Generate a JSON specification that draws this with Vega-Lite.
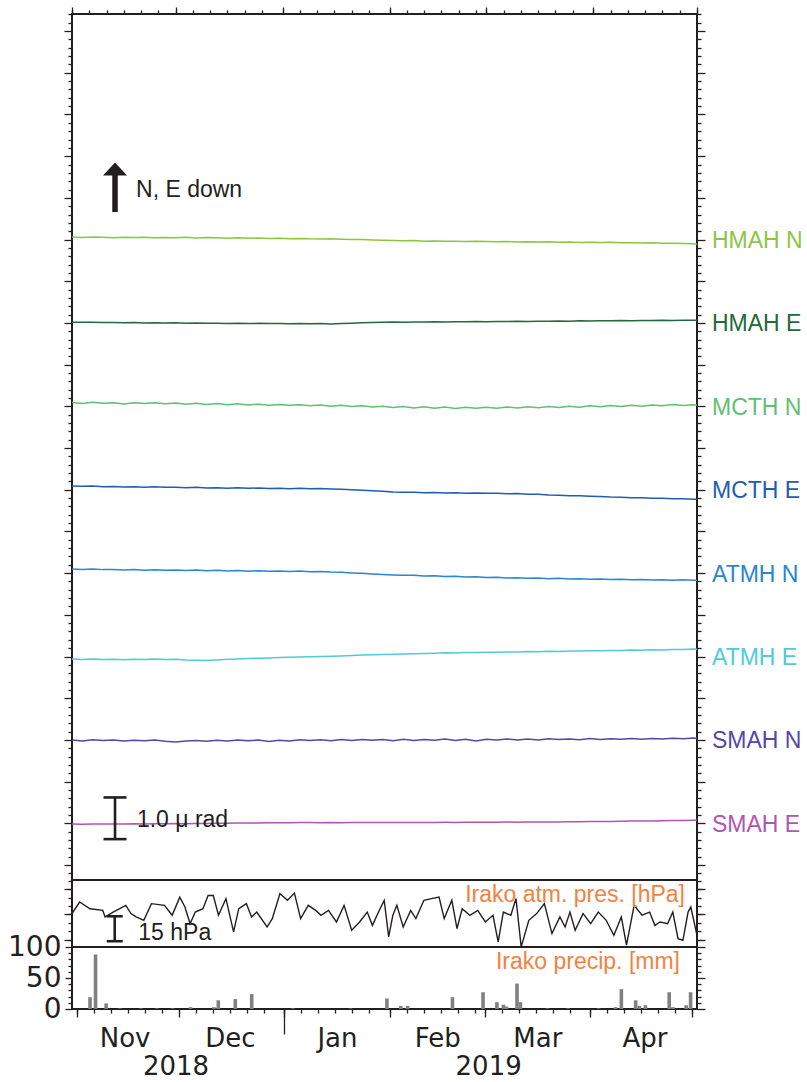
{
  "$schema": "https://vega.github.io/schema/vega-lite/v6.json",
  "padding": {"left": 6, "top": 5, "right": 0, "bottom": 0},
  "bounds": "flush",
  "spacing": 0,
  "config": {
    "view": {"stroke": "#231f20", "strokeWidth": 2},
    "axis": {"domain": false, "grid": false, "tickColor": "#231f20", "tickWidth": 1.3, "labelColor": "#231f20", "labelFont": "DejaVu Sans", "labelFlush": false, "labelOverlap": false, "title": null}
  },
  "datasets": {
    "tilt": [
      {"t":"2018-11-01","HMAH N":15.062,"HMAH E":13.019,"MCTH N":11.094,"MCTH E":9.091,"ATMH N":7.096,"ATMH E":4.942,"SMAH N":2.995,"SMAH E":0.981},
      {"t":"2018-11-04","HMAH N":15.05,"HMAH E":13.014,"MCTH N":11.07,"MCTH E":9.082,"ATMH N":7.086,"ATMH E":4.93,"SMAH N":2.976,"SMAH E":0.978},
      {"t":"2018-11-07","HMAH N":15.062,"HMAH E":13.017,"MCTH N":11.098,"MCTH E":9.089,"ATMH N":7.098,"ATMH E":4.94,"SMAH N":3.005,"SMAH E":0.983},
      {"t":"2018-11-10","HMAH N":15.055,"HMAH E":13.01,"MCTH N":11.077,"MCTH E":9.074,"ATMH N":7.084,"ATMH E":4.926,"SMAH N":2.983,"SMAH E":0.981},
      {"t":"2018-11-13","HMAH N":15.043,"HMAH E":13.012,"MCTH N":11.086,"MCTH E":9.079,"ATMH N":7.089,"ATMH E":4.935,"SMAH N":2.998,"SMAH E":0.986},
      {"t":"2018-11-16","HMAH N":15.058,"HMAH E":13.005,"MCTH N":11.058,"MCTH E":9.067,"ATMH N":7.077,"ATMH E":4.923,"SMAH N":2.971,"SMAH E":0.983},
      {"t":"2018-11-19","HMAH N":15.048,"HMAH E":13.01,"MCTH N":11.084,"MCTH E":9.074,"ATMH N":7.086,"ATMH E":4.933,"SMAH N":2.99,"SMAH E":0.988},
      {"t":"2018-11-22","HMAH N":15.053,"HMAH E":13.002,"MCTH N":11.067,"MCTH E":9.062,"ATMH N":7.072,"ATMH E":4.928,"SMAH N":2.981,"SMAH E":0.986},
      {"t":"2018-11-25","HMAH N":15.043,"HMAH E":13.007,"MCTH N":11.089,"MCTH E":9.07,"ATMH N":7.082,"ATMH E":4.938,"SMAH N":3.0,"SMAH E":0.99},
      {"t":"2018-11-28","HMAH N":15.05,"HMAH E":13.0,"MCTH N":11.062,"MCTH E":9.058,"ATMH N":7.067,"ATMH E":4.926,"SMAH N":2.966,"SMAH E":0.988},
      {"t":"2018-12-01","HMAH N":15.046,"HMAH E":13.002,"MCTH N":11.082,"MCTH E":9.062,"ATMH N":7.074,"ATMH E":4.933,"SMAH N":2.947,"SMAH E":0.993},
      {"t":"2018-12-04","HMAH N":15.053,"HMAH E":12.995,"MCTH N":11.053,"MCTH E":9.05,"ATMH N":7.062,"ATMH E":4.918,"SMAH N":2.971,"SMAH E":0.99},
      {"t":"2018-12-07","HMAH N":15.038,"HMAH E":13.0,"MCTH N":11.074,"MCTH E":9.058,"ATMH N":7.072,"ATMH E":4.909,"SMAH N":2.988,"SMAH E":0.995},
      {"t":"2018-12-10","HMAH N":15.048,"HMAH E":12.993,"MCTH N":11.046,"MCTH E":9.043,"ATMH N":7.058,"ATMH E":4.902,"SMAH N":2.969,"SMAH E":0.998},
      {"t":"2018-12-13","HMAH N":15.043,"HMAH E":12.995,"MCTH N":11.067,"MCTH E":9.05,"ATMH N":7.067,"ATMH E":4.916,"SMAH N":2.99,"SMAH E":1.0},
      {"t":"2018-12-16","HMAH N":15.034,"HMAH E":12.99,"MCTH N":11.038,"MCTH E":9.038,"ATMH N":7.053,"ATMH E":4.933,"SMAH N":2.976,"SMAH E":1.002},
      {"t":"2018-12-19","HMAH N":15.041,"HMAH E":12.993,"MCTH N":11.06,"MCTH E":9.046,"ATMH N":7.06,"ATMH E":4.942,"SMAH N":3.0,"SMAH E":1.005},
      {"t":"2018-12-22","HMAH N":15.031,"HMAH E":12.988,"MCTH N":11.034,"MCTH E":9.034,"ATMH N":7.048,"ATMH E":4.95,"SMAH N":2.981,"SMAH E":1.007},
      {"t":"2018-12-25","HMAH N":15.036,"HMAH E":12.99,"MCTH N":11.053,"MCTH E":9.041,"ATMH N":7.058,"ATMH E":4.959,"SMAH N":2.995,"SMAH E":1.01},
      {"t":"2018-12-28","HMAH N":15.026,"HMAH E":12.986,"MCTH N":11.029,"MCTH E":9.029,"ATMH N":7.043,"ATMH E":4.966,"SMAH N":2.964,"SMAH E":1.012},
      {"t":"2018-12-31","HMAH N":15.031,"HMAH E":12.988,"MCTH N":11.046,"MCTH E":9.038,"ATMH N":7.05,"ATMH E":4.974,"SMAH N":2.993,"SMAH E":1.014},
      {"t":"2019-01-03","HMAH N":15.019,"HMAH E":12.983,"MCTH N":11.024,"MCTH E":9.026,"ATMH N":7.038,"ATMH E":4.981,"SMAH N":2.974,"SMAH E":1.014},
      {"t":"2019-01-06","HMAH N":15.026,"HMAH E":12.986,"MCTH N":11.041,"MCTH E":9.034,"ATMH N":7.048,"ATMH E":4.986,"SMAH N":3.002,"SMAH E":1.017},
      {"t":"2019-01-09","HMAH N":15.017,"HMAH E":12.981,"MCTH N":11.014,"MCTH E":9.022,"ATMH N":7.034,"ATMH E":4.993,"SMAH N":2.983,"SMAH E":1.017},
      {"t":"2019-01-12","HMAH N":15.014,"HMAH E":12.986,"MCTH N":11.034,"MCTH E":9.029,"ATMH N":7.041,"ATMH E":4.998,"SMAH N":3.005,"SMAH E":1.014},
      {"t":"2019-01-15","HMAH N":15.019,"HMAH E":12.978,"MCTH N":11.005,"MCTH E":9.019,"ATMH N":7.026,"ATMH E":5.005,"SMAH N":2.978,"SMAH E":1.017},
      {"t":"2019-01-18","HMAH N":15.007,"HMAH E":12.988,"MCTH N":11.026,"MCTH E":9.014,"ATMH N":7.019,"ATMH E":5.014,"SMAH N":3.007,"SMAH E":1.014},
      {"t":"2019-01-21","HMAH N":15.0,"HMAH E":12.995,"MCTH N":10.998,"MCTH E":9.002,"ATMH N":7.005,"ATMH E":5.024,"SMAH N":2.986,"SMAH E":1.017},
      {"t":"2019-01-24","HMAH N":15.002,"HMAH E":13.005,"MCTH N":11.014,"MCTH E":8.99,"ATMH N":6.995,"ATMH E":5.034,"SMAH N":3.01,"SMAH E":1.019},
      {"t":"2019-01-27","HMAH N":14.99,"HMAH E":13.012,"MCTH N":10.986,"MCTH E":8.976,"ATMH N":6.981,"ATMH E":5.043,"SMAH N":2.99,"SMAH E":1.017},
      {"t":"2019-01-30","HMAH N":14.983,"HMAH E":13.017,"MCTH N":11.002,"MCTH E":8.962,"ATMH N":6.969,"ATMH E":5.048,"SMAH N":3.012,"SMAH E":1.019},
      {"t":"2019-02-02","HMAH N":14.978,"HMAH E":13.022,"MCTH N":10.974,"MCTH E":8.947,"ATMH N":6.957,"ATMH E":5.055,"SMAH N":2.981,"SMAH E":1.017},
      {"t":"2019-02-05","HMAH N":14.969,"HMAH E":13.017,"MCTH N":10.995,"MCTH E":8.938,"ATMH N":6.947,"ATMH E":5.062,"SMAH N":3.014,"SMAH E":1.019},
      {"t":"2019-02-08","HMAH N":14.976,"HMAH E":13.024,"MCTH N":10.962,"MCTH E":8.942,"ATMH N":6.952,"ATMH E":5.067,"SMAH N":2.983,"SMAH E":1.022},
      {"t":"2019-02-11","HMAH N":14.962,"HMAH E":13.022,"MCTH N":10.99,"MCTH E":8.93,"ATMH N":6.933,"ATMH E":5.074,"SMAH N":3.01,"SMAH E":1.019},
      {"t":"2019-02-14","HMAH N":14.966,"HMAH E":13.029,"MCTH N":10.954,"MCTH E":8.935,"ATMH N":6.94,"ATMH E":5.079,"SMAH N":2.99,"SMAH E":1.022},
      {"t":"2019-02-17","HMAH N":14.957,"HMAH E":13.024,"MCTH N":10.986,"MCTH E":8.923,"ATMH N":6.921,"ATMH E":5.089,"SMAH N":3.019,"SMAH E":1.024},
      {"t":"2019-02-20","HMAH N":14.962,"HMAH E":13.031,"MCTH N":10.95,"MCTH E":8.928,"ATMH N":6.928,"ATMH E":5.086,"SMAH N":2.988,"SMAH E":1.022},
      {"t":"2019-02-23","HMAH N":14.952,"HMAH E":13.026,"MCTH N":10.981,"MCTH E":8.918,"ATMH N":6.909,"ATMH E":5.096,"SMAH N":3.017,"SMAH E":1.024},
      {"t":"2019-02-26","HMAH N":14.957,"HMAH E":13.034,"MCTH N":10.957,"MCTH E":8.923,"ATMH N":6.914,"ATMH E":5.094,"SMAH N":2.974,"SMAH E":1.026},
      {"t":"2019-03-01","HMAH N":14.954,"HMAH E":13.031,"MCTH N":10.978,"MCTH E":8.914,"ATMH N":6.894,"ATMH E":5.103,"SMAH N":3.014,"SMAH E":1.024},
      {"t":"2019-03-04","HMAH N":14.947,"HMAH E":13.036,"MCTH N":10.952,"MCTH E":8.918,"ATMH N":6.904,"ATMH E":5.101,"SMAH N":3.0,"SMAH E":1.026},
      {"t":"2019-03-07","HMAH N":14.952,"HMAH E":13.034,"MCTH N":10.986,"MCTH E":8.906,"ATMH N":6.885,"ATMH E":5.11,"SMAH N":3.024,"SMAH E":1.029},
      {"t":"2019-03-10","HMAH N":14.942,"HMAH E":13.041,"MCTH N":10.962,"MCTH E":8.909,"ATMH N":6.892,"ATMH E":5.108,"SMAH N":2.998,"SMAH E":1.026},
      {"t":"2019-03-13","HMAH N":14.95,"HMAH E":13.036,"MCTH N":10.99,"MCTH E":8.894,"ATMH N":6.875,"ATMH E":5.118,"SMAH N":3.019,"SMAH E":1.029},
      {"t":"2019-03-16","HMAH N":14.94,"HMAH E":13.043,"MCTH N":10.966,"MCTH E":8.89,"ATMH N":6.885,"ATMH E":5.115,"SMAH N":3.0,"SMAH E":1.031},
      {"t":"2019-03-19","HMAH N":14.945,"HMAH E":13.041,"MCTH N":10.998,"MCTH E":8.875,"ATMH N":6.868,"ATMH E":5.125,"SMAH N":3.026,"SMAH E":1.034},
      {"t":"2019-03-22","HMAH N":14.935,"HMAH E":13.046,"MCTH N":10.974,"MCTH E":8.87,"ATMH N":6.875,"ATMH E":5.122,"SMAH N":3.007,"SMAH E":1.031},
      {"t":"2019-03-25","HMAH N":14.94,"HMAH E":13.043,"MCTH N":11.005,"MCTH E":8.858,"ATMH N":6.861,"ATMH E":5.132,"SMAH N":3.024,"SMAH E":1.036},
      {"t":"2019-03-28","HMAH N":14.93,"HMAH E":13.05,"MCTH N":10.981,"MCTH E":8.856,"ATMH N":6.868,"ATMH E":5.13,"SMAH N":3.005,"SMAH E":1.038},
      {"t":"2019-03-31","HMAH N":14.935,"HMAH E":13.048,"MCTH N":11.014,"MCTH E":8.846,"ATMH N":6.851,"ATMH E":5.139,"SMAH N":3.031,"SMAH E":1.041},
      {"t":"2019-04-03","HMAH N":14.928,"HMAH E":13.053,"MCTH N":10.99,"MCTH E":8.839,"ATMH N":6.861,"ATMH E":5.137,"SMAH N":3.01,"SMAH E":1.043},
      {"t":"2019-04-06","HMAH N":14.933,"HMAH E":13.05,"MCTH N":11.022,"MCTH E":8.827,"ATMH N":6.846,"ATMH E":5.146,"SMAH N":3.029,"SMAH E":1.046},
      {"t":"2019-04-09","HMAH N":14.923,"HMAH E":13.058,"MCTH N":10.998,"MCTH E":8.822,"ATMH N":6.856,"ATMH E":5.144,"SMAH N":3.014,"SMAH E":1.048},
      {"t":"2019-04-12","HMAH N":14.926,"HMAH E":13.053,"MCTH N":11.029,"MCTH E":8.81,"ATMH N":6.842,"ATMH E":5.154,"SMAH N":3.036,"SMAH E":1.053},
      {"t":"2019-04-15","HMAH N":14.918,"HMAH E":13.06,"MCTH N":11.005,"MCTH E":8.808,"ATMH N":6.849,"ATMH E":5.151,"SMAH N":3.017,"SMAH E":1.055},
      {"t":"2019-04-18","HMAH N":14.921,"HMAH E":13.058,"MCTH N":11.034,"MCTH E":8.798,"ATMH N":6.837,"ATMH E":5.161,"SMAH N":3.034,"SMAH E":1.058},
      {"t":"2019-04-21","HMAH N":14.911,"HMAH E":13.062,"MCTH N":11.014,"MCTH E":8.794,"ATMH N":6.844,"ATMH E":5.158,"SMAH N":3.019,"SMAH E":1.062},
      {"t":"2019-04-24","HMAH N":14.914,"HMAH E":13.06,"MCTH N":11.043,"MCTH E":8.784,"ATMH N":6.832,"ATMH E":5.168,"SMAH N":3.038,"SMAH E":1.065},
      {"t":"2019-04-27","HMAH N":14.904,"HMAH E":13.065,"MCTH N":11.022,"MCTH E":8.786,"ATMH N":6.839,"ATMH E":5.17,"SMAH N":3.029,"SMAH E":1.07},
      {"t":"2019-04-30","HMAH N":14.899,"HMAH E":13.067,"MCTH N":11.038,"MCTH E":8.774,"ATMH N":6.827,"ATMH E":5.178,"SMAH N":3.043,"SMAH E":1.074},
      {"t":"2019-05-01","HMAH N":14.89,"HMAH E":13.065,"MCTH N":11.024,"MCTH E":8.77,"ATMH N":6.832,"ATMH E":5.175,"SMAH N":3.034,"SMAH E":1.077}
    ],
    "pres": [
      {"t":"2018-11-01T00:00:00Z","p":1015.5},{"t":"2018-11-03T05:00:00Z","p":1022.4},{"t":"2018-11-06T05:00:00Z","p":1018.4},
      {"t":"2018-11-09T22:00:00Z","p":1017.4},{"t":"2018-11-10T14:00:00Z","p":1013.5},{"t":"2018-11-12T22:00:00Z","p":1016.4},
      {"t":"2018-11-16T14:00:00Z","p":1020.4},{"t":"2018-11-18T02:00:00Z","p":1015.5},{"t":"2018-11-19T14:00:00Z","p":1013.5},
      {"t":"2018-11-21T19:00:00Z","p":1011.5},{"t":"2018-11-24T00:00:00Z","p":1021.4},{"t":"2018-11-27T19:00:00Z","p":1020.4},
      {"t":"2018-11-30T00:00:00Z","p":1014.5},{"t":"2018-12-02T05:00:00Z","p":1025.3},{"t":"2018-12-03T17:00:00Z","p":1019.4},
      {"t":"2018-12-05T05:00:00Z","p":1009.5},{"t":"2018-12-06T17:00:00Z","p":1016.4},{"t":"2018-12-08T22:00:00Z","p":1018.4},
      {"t":"2018-12-10T10:00:00Z","p":1026.3},{"t":"2018-12-11T22:00:00Z","p":1026.3},{"t":"2018-12-13T10:00:00Z","p":1014.5},
      {"t":"2018-12-15T14:00:00Z","p":1024.4},{"t":"2018-12-17T19:00:00Z","p":1004.6},{"t":"2018-12-19T07:00:00Z","p":1018.4},
      {"t":"2018-12-21T12:00:00Z","p":1021.4},{"t":"2018-12-23T00:00:00Z","p":1013.5},{"t":"2018-12-24T12:00:00Z","p":1016.4},
      {"t":"2018-12-27T12:00:00Z","p":1007.5},{"t":"2018-12-29T00:00:00Z","p":1012.5},{"t":"2018-12-31T05:00:00Z","p":1027.3},
      {"t":"2019-01-02T10:00:00Z","p":1023.4},{"t":"2019-01-04T10:00:00Z","p":1027.7},{"t":"2019-01-06T05:00:00Z","p":1012.5},
      {"t":"2019-01-08T10:00:00Z","p":1020.4},{"t":"2019-01-10T14:00:00Z","p":1017.4},{"t":"2019-01-12T02:00:00Z","p":1014.5},
      {"t":"2019-01-14T07:00:00Z","p":1017.4},{"t":"2019-01-16T14:00:00Z","p":1010.5},{"t":"2019-01-18T19:00:00Z","p":1020.4},
      {"t":"2019-01-21T00:00:00Z","p":1005.6},{"t":"2019-01-23T07:00:00Z","p":1010.5},{"t":"2019-01-25T12:00:00Z","p":1016.4},
      {"t":"2019-01-27T00:00:00Z","p":1008.5},{"t":"2019-01-29T05:00:00Z","p":1018.4},{"t":"2019-01-30T10:00:00Z","p":1023.4},
      {"t":"2019-01-31T17:00:00Z","p":1001.6},{"t":"2019-02-01T22:00:00Z","p":1014.5},{"t":"2019-02-03T02:00:00Z","p":1020.4},
      {"t":"2019-02-04T22:00:00Z","p":1007.5},{"t":"2019-02-07T02:00:00Z","p":1017.4},{"t":"2019-02-08T14:00:00Z","p":1012.5},
      {"t":"2019-02-10T22:00:00Z","p":1023.4},{"t":"2019-02-13T02:00:00Z","p":1024.4},{"t":"2019-02-15T07:00:00Z","p":1025.3},
      {"t":"2019-02-16T19:00:00Z","p":1012.5},{"t":"2019-02-19T00:00:00Z","p":1023.4},{"t":"2019-02-20T12:00:00Z","p":1006.6},
      {"t":"2019-02-22T00:00:00Z","p":1018.4},{"t":"2019-02-24T05:00:00Z","p":1014.5},{"t":"2019-02-26T12:00:00Z","p":1017.4},
      {"t":"2019-02-28T17:00:00Z","p":1010.5},{"t":"2019-03-02T22:00:00Z","p":1014.5},{"t":"2019-03-04T10:00:00Z","p":998.7},
      {"t":"2019-03-05T22:00:00Z","p":1016.4},{"t":"2019-03-08T02:00:00Z","p":1014.5},{"t":"2019-03-09T14:00:00Z","p":1024.4},
      {"t":"2019-03-11T02:00:00Z","p":995.7},{"t":"2019-03-13T07:00:00Z","p":1011.5},{"t":"2019-03-15T14:00:00Z","p":1015.5},
      {"t":"2019-03-17T19:00:00Z","p":1021.4},{"t":"2019-03-20T00:00:00Z","p":1003.6},{"t":"2019-03-22T07:00:00Z","p":1013.5},
      {"t":"2019-03-23T19:00:00Z","p":1007.5},{"t":"2019-03-25T05:00:00Z","p":1016.4},{"t":"2019-03-26T17:00:00Z","p":1005.6},
      {"t":"2019-03-29T00:00:00Z","p":1015.5},{"t":"2019-03-31T05:00:00Z","p":1009.5},{"t":"2019-04-02T10:00:00Z","p":1016.4},
      {"t":"2019-04-04T17:00:00Z","p":1011.5},{"t":"2019-04-06T22:00:00Z","p":1002.6},{"t":"2019-04-09T02:00:00Z","p":1013.5},
      {"t":"2019-04-10T14:00:00Z","p":996.7},{"t":"2019-04-12T19:00:00Z","p":1020.4},{"t":"2019-04-15T02:00:00Z","p":1014.5},
      {"t":"2019-04-17T07:00:00Z","p":1016.4},{"t":"2019-04-18T19:00:00Z","p":1008.5},{"t":"2019-04-20T07:00:00Z","p":1010.5},
      {"t":"2019-04-22T12:00:00Z","p":1009.5},{"t":"2019-04-24T00:00:00Z","p":1016.4},{"t":"2019-04-25T12:00:00Z","p":1000.6},
      {"t":"2019-04-26T22:00:00Z","p":999.6},{"t":"2019-04-28T10:00:00Z","p":1016.4},{"t":"2019-04-29T05:00:00Z","p":1019.4},
      {"t":"2019-05-01T00:00:00Z","p":1002.6}
    ],
    "rain": [
      {"t":"2018-11-04T20:00:00Z","mm":19},{"t":"2018-11-06T11:00:00Z","mm":88},{"t":"2018-11-09T14:00:00Z","mm":9},
      {"t":"2018-11-13T15:00:00Z","mm":1},{"t":"2018-11-19T19:00:00Z","mm":1},{"t":"2018-11-24T12:00:00Z","mm":1},
      {"t":"2018-11-29T02:00:00Z","mm":1},{"t":"2018-12-04T10:00:00Z","mm":3},{"t":"2018-12-11T07:00:00Z","mm":3},
      {"t":"2018-12-12T14:00:00Z","mm":14},{"t":"2018-12-17T14:00:00Z","mm":16},{"t":"2018-12-22T10:00:00Z","mm":24},
      {"t":"2019-01-03T12:00:00Z","mm":1},{"t":"2019-01-20T12:00:00Z","mm":1},{"t":"2019-01-31T05:00:00Z","mm":17},
      {"t":"2019-02-04T07:00:00Z","mm":5},{"t":"2019-02-06T07:00:00Z","mm":5},{"t":"2019-02-19T12:00:00Z","mm":19},
      {"t":"2019-02-28T12:00:00Z","mm":27},{"t":"2019-03-04T14:00:00Z","mm":11},{"t":"2019-03-06T12:00:00Z","mm":7},
      {"t":"2019-03-07T10:00:00Z","mm":4},{"t":"2019-03-10T12:00:00Z","mm":41},{"t":"2019-03-11T12:00:00Z","mm":11},
      {"t":"2019-03-19T12:00:00Z","mm":1},{"t":"2019-03-25T12:00:00Z","mm":1},{"t":"2019-04-03T12:00:00Z","mm":1},
      {"t":"2019-04-08T12:00:00Z","mm":3},{"t":"2019-04-10T05:00:00Z","mm":32},{"t":"2019-04-14T10:00:00Z","mm":14},
      {"t":"2019-04-15T12:00:00Z","mm":5},{"t":"2019-04-17T07:00:00Z","mm":6},{"t":"2019-04-24T07:00:00Z","mm":27},
      {"t":"2019-04-25T10:00:00Z","mm":3},{"t":"2019-04-29T07:00:00Z","mm":6},{"t":"2019-04-30T14:00:00Z","mm":27}
    ]
  },
  "vconcat": [
    {
      "width": 625,
      "height": 866,
      "layer": [
        {
          "data": {"name": "tilt"},
          "transform": [{"fold": ["HMAH N","HMAH E","MCTH N","MCTH E","ATMH N","ATMH E","SMAH N","SMAH E"], "as": ["s","v"]}],
          "mark": {"type": "line", "strokeWidth": 1.5, "clip": true},
          "encoding": {
            "x": {"field": "t", "type": "temporal",
              "scale": {"type": "utc", "nice": false, "domain": [{"year":2018,"month":11,"date":1,"utc":true},{"year":2019,"month":5,"date":1,"utc":true}]},
              "axis": {"orient": "top", "labels": false, "tickSize": 4,
                "values": [
                  {"year":2018,"month":11,"date":1,"utc":true},{"year":2018,"month":11,"date":6,"utc":true},{"year":2018,"month":11,"date":11,"utc":true},{"year":2018,"month":11,"date":16,"utc":true},{"year":2018,"month":11,"date":21,"utc":true},{"year":2018,"month":11,"date":26,"utc":true},
                  {"year":2018,"month":12,"date":1,"utc":true},{"year":2018,"month":12,"date":6,"utc":true},{"year":2018,"month":12,"date":11,"utc":true},{"year":2018,"month":12,"date":16,"utc":true},{"year":2018,"month":12,"date":21,"utc":true},{"year":2018,"month":12,"date":26,"utc":true},
                  {"year":2019,"month":1,"date":1,"utc":true},{"year":2019,"month":1,"date":6,"utc":true},{"year":2019,"month":1,"date":11,"utc":true},{"year":2019,"month":1,"date":16,"utc":true},{"year":2019,"month":1,"date":21,"utc":true},{"year":2019,"month":1,"date":26,"utc":true},
                  {"year":2019,"month":2,"date":1,"utc":true},{"year":2019,"month":2,"date":6,"utc":true},{"year":2019,"month":2,"date":11,"utc":true},{"year":2019,"month":2,"date":16,"utc":true},{"year":2019,"month":2,"date":21,"utc":true},{"year":2019,"month":2,"date":26,"utc":true},
                  {"year":2019,"month":3,"date":1,"utc":true},{"year":2019,"month":3,"date":6,"utc":true},{"year":2019,"month":3,"date":11,"utc":true},{"year":2019,"month":3,"date":16,"utc":true},{"year":2019,"month":3,"date":21,"utc":true},{"year":2019,"month":3,"date":26,"utc":true},
                  {"year":2019,"month":4,"date":1,"utc":true},{"year":2019,"month":4,"date":6,"utc":true},{"year":2019,"month":4,"date":11,"utc":true},{"year":2019,"month":4,"date":16,"utc":true},{"year":2019,"month":4,"date":21,"utc":true},{"year":2019,"month":4,"date":26,"utc":true},
                  {"year":2019,"month":5,"date":1,"utc":true}
                ]}},
            "y": {"field": "v", "type": "quantitative",
              "scale": {"domain": [-0.36, 20.41], "nice": false, "zero": false},
              "axis": {"orient": "left", "labels": false, "tickSize": 8, "values": [0,1,2,3,4,5,6,7,8,9,10,11,12,13,14,15,16,17,18,19,20]}},
            "color": {"field": "s", "type": "nominal", "legend": null,
              "scale": {"domain": ["HMAH N","HMAH E","MCTH N","MCTH E","ATMH N","ATMH E","SMAH N","SMAH E"],
                        "range": ["#8cc63f","#23693b","#5fbf73","#1f5cb2","#2a86d1","#4fcadb","#5646a7","#b353b6"]}}
          }
        },
        {
          "data": {"values": [{"t":"2018-11-13T11:00:00Z","lo":0.62,"hi":1.62}]},
          "mark": {"type": "rule", "strokeWidth": 2.6, "color": "#231f20"},
          "encoding": {
            "x": {"field": "t", "type": "temporal",
              "axis": {"orient": "top", "labels": false, "tickSize": 7,
                "values": [{"year":2018,"month":11,"date":1,"utc":true},{"year":2018,"month":12,"date":1,"utc":true},{"year":2019,"month":1,"date":1,"utc":true},{"year":2019,"month":2,"date":1,"utc":true},{"year":2019,"month":3,"date":1,"utc":true},{"year":2019,"month":4,"date":1,"utc":true},{"year":2019,"month":5,"date":1,"utc":true}]}},
            "y": {"field": "lo", "type": "quantitative",
              "axis": {"orient": "left", "labels": false, "tickSize": 4,
                "values": [-0.2,0.2,0.4,0.6,0.8,1.2,1.4,1.6,1.8,2.2,2.4,2.6,2.8,3.2,3.4,3.6,3.8,4.2,4.4,4.6,4.8,5.2,5.4,5.6,5.8,6.2,6.4,6.6,6.8,7.2,7.4,7.6,7.8,8.2,8.4,8.6,8.8,9.2,9.4,9.6,9.8,10.2,10.4,10.6,10.8,11.2,11.4,11.6,11.8,12.2,12.4,12.6,12.8,13.2,13.4,13.6,13.8,14.2,14.4,14.6,14.8,15.2,15.4,15.6,15.8,16.2,16.4,16.6,16.8,17.2,17.4,17.6,17.8,18.2,18.4,18.6,18.8,19.2,19.4,19.6,19.8,20.2,20.4]}},
            "y2": {"field": "hi"}
          }
        },
        {
          "data": {"values": [{"t":"2018-11-13T11:00:00Z","v":0.62},{"t":"2018-11-13T11:00:00Z","v":1.62}]},
          "mark": {"type": "tick", "orient": "horizontal", "size": 23, "thickness": 2.6, "color": "#231f20", "opacity": 1},
          "encoding": {
            "x": {"field": "t", "type": "temporal", "axis": null},
            "y": {"field": "v", "type": "quantitative",
              "axis": {"orient": "right", "labels": false, "tickSize": 8, "values": [0,1,2,3,4,5,6,7,8,9,10,11,12,13,14,15,16,17,18,19,20]}}
          }
        },
        {
          "data": {"values": [{"t":"2018-11-13T11:00:00Z","lo":15.66,"hi":16.6}]},
          "mark": {"type": "rule", "strokeWidth": 5.5, "color": "#231f20"},
          "encoding": {
            "x": {"field": "t", "type": "temporal", "axis": null},
            "y": {"field": "lo", "type": "quantitative",
              "axis": {"orient": "right", "labels": false, "tickSize": 4,
                "values": [-0.2,0.2,0.4,0.6,0.8,1.2,1.4,1.6,1.8,2.2,2.4,2.6,2.8,3.2,3.4,3.6,3.8,4.2,4.4,4.6,4.8,5.2,5.4,5.6,5.8,6.2,6.4,6.6,6.8,7.2,7.4,7.6,7.8,8.2,8.4,8.6,8.8,9.2,9.4,9.6,9.8,10.2,10.4,10.6,10.8,11.2,11.4,11.6,11.8,12.2,12.4,12.6,12.8,13.2,13.4,13.6,13.8,14.2,14.4,14.6,14.8,15.2,15.4,15.6,15.8,16.2,16.4,16.6,16.8,17.2,17.4,17.6,17.8,18.2,18.4,18.6,18.8,19.2,19.4,19.6,19.8,20.2,20.4]}},
            "y2": {"field": "hi"}
          }
        },
        {
          "data": {"values": [{"t":"2018-11-13T11:00:00Z","v":16.695}]},
          "mark": {"type": "point", "shape": "M0,-0.54L1,0.54L-1,0.54Z", "size": 576, "filled": true, "color": "#231f20", "opacity": 1, "strokeWidth": 0},
          "encoding": {
            "x": {"field": "t", "type": "temporal", "axis": null},
            "y": {"field": "v", "type": "quantitative", "axis": null}
          }
        },
        {
          "data": {"values": [{"t":"2018-11-19T13:00:00Z","v":16.02,"label":"N, E down"},{"t":"2018-11-19T19:00:00Z","v":0.911,"label":"1.0 μ rad"}]},
          "mark": {"type": "text", "align": "left", "baseline": "alphabetic", "font": "Liberation Sans", "fontSize": 23, "color": "#231f20"},
          "encoding": {
            "x": {"field": "t", "type": "temporal", "axis": null},
            "y": {"field": "v", "type": "quantitative", "axis": null},
            "text": {"field": "label"}
          }
        },
        {
          "data": {"values": [{"s":"HMAH N","v":15},{"s":"HMAH E","v":13},{"s":"MCTH N","v":11},{"s":"MCTH E","v":9},{"s":"ATMH N","v":7},{"s":"ATMH E","v":5},{"s":"SMAH N","v":3},{"s":"SMAH E","v":1}]},
          "mark": {"type": "text", "align": "left", "baseline": "middle", "dx": 15, "dy": 1.5, "font": "Liberation Sans", "fontSize": 23},
          "encoding": {
            "x": {"datum": {"year":2019,"month":5,"date":1,"utc":true}, "type": "temporal", "axis": null},
            "y": {"field": "v", "type": "quantitative", "axis": null},
            "text": {"field": "s"},
            "color": {"field": "s", "type": "nominal", "legend": null}
          }
        }
      ],
      "resolve": {"axis": {"x": "independent", "y": "independent"}}
    },
    {
      "width": 625,
      "height": 67,
      "layer": [
        {
          "data": {"name": "pres"},
          "mark": {"type": "line", "strokeWidth": 1.4, "color": "#231f20", "clip": true},
          "encoding": {
            "x": {"field": "t", "type": "temporal", "axis": null,
              "scale": {"type": "utc", "nice": false, "domain": [{"year":2018,"month":11,"date":1,"utc":true},{"year":2019,"month":5,"date":1,"utc":true}]}},
            "y": {"field": "p", "type": "quantitative",
              "scale": {"domain": [995.6, 1035.5], "nice": false, "zero": false},
              "axis": {"orient": "left", "labels": false, "tickSize": 8, "values": [1000,1015,1030]}}
          }
        },
        {
          "data": {"values": [{"t":"2018-11-13T09:00:00Z","lo":999.05,"hi":1013.9}]},
          "mark": {"type": "rule", "strokeWidth": 2.6, "color": "#231f20"},
          "encoding": {
            "x": {"field": "t", "type": "temporal", "axis": null},
            "y": {"field": "lo", "type": "quantitative",
              "axis": {"orient": "left", "labels": false, "tickSize": 4, "values": [1000,1005,1010,1015,1020,1025,1030,1035]}},
            "y2": {"field": "hi"}
          }
        },
        {
          "data": {"values": [{"t":"2018-11-13T09:00:00Z","p":999.05},{"t":"2018-11-13T09:00:00Z","p":1013.9}]},
          "mark": {"type": "tick", "orient": "horizontal", "size": 16, "thickness": 2.6, "color": "#231f20", "opacity": 1},
          "encoding": {
            "x": {"field": "t", "type": "temporal", "axis": null},
            "y": {"field": "p", "type": "quantitative",
              "axis": {"orient": "right", "labels": false, "tickSize": 8, "values": [1000,1015,1030]}}
          }
        },
        {
          "data": {"values": [{"t":"2018-11-20T05:00:00Z","p":999.6,"label":"15 hPa"}]},
          "mark": {"type": "text", "align": "left", "baseline": "alphabetic", "font": "Liberation Sans", "fontSize": 23, "color": "#231f20"},
          "encoding": {
            "x": {"field": "t", "type": "temporal", "axis": null},
            "y": {"field": "p", "type": "quantitative",
              "axis": {"orient": "right", "labels": false, "tickSize": 4, "values": [1000,1005,1010,1015,1020,1025,1030,1035]}},
            "text": {"field": "label"}
          }
        },
        {
          "data": {"values": [{"label":"Irako atm. pres. [hPa]","p":1022.3}]},
          "mark": {"type": "text", "align": "right", "baseline": "alphabetic", "dx": -12, "font": "Liberation Sans", "fontSize": 23, "color": "#f4823f"},
          "encoding": {
            "x": {"datum": {"year":2019,"month":5,"date":1,"utc":true}, "type": "temporal", "axis": null},
            "y": {"field": "p", "type": "quantitative", "axis": null},
            "text": {"field": "label"}
          }
        }
      ],
      "resolve": {"axis": {"x": "independent", "y": "independent"}}
    },
    {
      "width": 625,
      "height": 62,
      "data": {"name": "rain"},
      "layer": [
        {
          "mark": {"type": "bar", "size": 3.6, "color": "#808080"},
          "encoding": {
            "x": {"field": "t", "type": "temporal",
              "scale": {"type": "utc", "nice": false, "domain": [{"year":2018,"month":11,"date":1,"utc":true},{"year":2019,"month":5,"date":1,"utc":true}]},
              "axis": {"orient": "bottom", "labels": false, "tickSize": 4,
                "values": [
                  {"year":2018,"month":11,"date":1,"utc":true},{"year":2018,"month":11,"date":6,"utc":true},{"year":2018,"month":11,"date":11,"utc":true},{"year":2018,"month":11,"date":16,"utc":true},{"year":2018,"month":11,"date":21,"utc":true},{"year":2018,"month":11,"date":26,"utc":true},
                  {"year":2018,"month":12,"date":1,"utc":true},{"year":2018,"month":12,"date":6,"utc":true},{"year":2018,"month":12,"date":11,"utc":true},{"year":2018,"month":12,"date":16,"utc":true},{"year":2018,"month":12,"date":21,"utc":true},{"year":2018,"month":12,"date":26,"utc":true},
                  {"year":2019,"month":1,"date":1,"utc":true},{"year":2019,"month":1,"date":6,"utc":true},{"year":2019,"month":1,"date":11,"utc":true},{"year":2019,"month":1,"date":16,"utc":true},{"year":2019,"month":1,"date":21,"utc":true},{"year":2019,"month":1,"date":26,"utc":true},
                  {"year":2019,"month":2,"date":1,"utc":true},{"year":2019,"month":2,"date":6,"utc":true},{"year":2019,"month":2,"date":11,"utc":true},{"year":2019,"month":2,"date":16,"utc":true},{"year":2019,"month":2,"date":21,"utc":true},{"year":2019,"month":2,"date":26,"utc":true},
                  {"year":2019,"month":3,"date":1,"utc":true},{"year":2019,"month":3,"date":6,"utc":true},{"year":2019,"month":3,"date":11,"utc":true},{"year":2019,"month":3,"date":16,"utc":true},{"year":2019,"month":3,"date":21,"utc":true},{"year":2019,"month":3,"date":26,"utc":true},
                  {"year":2019,"month":4,"date":1,"utc":true},{"year":2019,"month":4,"date":6,"utc":true},{"year":2019,"month":4,"date":11,"utc":true},{"year":2019,"month":4,"date":16,"utc":true},{"year":2019,"month":4,"date":21,"utc":true},{"year":2019,"month":4,"date":26,"utc":true},
                  {"year":2019,"month":5,"date":1,"utc":true}
                ]}},
            "y": {"field": "mm", "type": "quantitative",
              "scale": {"domain": [0, 100], "nice": false, "zero": true},
              "axis": {"orient": "left", "tickSize": 7, "values": [0,50,100], "labelFontSize": 28, "labelPadding": 4}}
          }
        },
        {
          "mark": {"type": "bar", "size": 3.6, "opacity": 0},
          "encoding": {
            "x": {"field": "t", "type": "temporal",
              "axis": {"orient": "bottom", "labels": false, "tickSize": 8,
                "values": [{"year":2018,"month":11,"date":1,"utc":true},{"year":2018,"month":12,"date":1,"utc":true},{"year":2019,"month":1,"date":1,"utc":true},{"year":2019,"month":2,"date":1,"utc":true},{"year":2019,"month":3,"date":1,"utc":true},{"year":2019,"month":4,"date":1,"utc":true},{"year":2019,"month":5,"date":1,"utc":true}]}},
            "y": {"field": "mm", "type": "quantitative",
              "axis": {"orient": "left", "labels": false, "tickSize": 4, "values": [10,20,30,40,60,70,80,90]}}
          }
        },
        {
          "mark": {"type": "bar", "size": 3.6, "opacity": 0},
          "encoding": {
            "x": {"field": "t", "type": "temporal",
              "axis": {"orient": "bottom", "labels": false, "tickSize": 25, "values": [{"year":2019,"month":1,"date":1,"utc":true}]}},
            "y": {"field": "mm", "type": "quantitative",
              "axis": {"orient": "right", "labels": false, "tickSize": 8, "values": [0,50,100]}}
          }
        },
        {
          "mark": {"type": "bar", "size": 3.6, "opacity": 0},
          "encoding": {
            "x": {"field": "t", "type": "temporal",
              "axis": {"orient": "bottom", "ticks": false, "tickSize": 0, "labelPadding": 16, "labelFontSize": 26,
                "labelExpr": "utcFormat(datum.value, '%b')",
                "values": [{"year":2018,"month":11,"date":15,"utc":true},{"year":2018,"month":12,"date":16,"utc":true},{"year":2019,"month":1,"date":16,"hours":12,"utc":true},{"year":2019,"month":2,"date":15,"utc":true},{"year":2019,"month":3,"date":16,"hours":12,"utc":true},{"year":2019,"month":4,"date":17,"utc":true}]}},
            "y": {"field": "mm", "type": "quantitative",
              "axis": {"orient": "right", "labels": false, "tickSize": 4, "values": [10,20,30,40,60,70,80,90]}}
          }
        },
        {
          "mark": {"type": "bar", "size": 3.6, "opacity": 0},
          "encoding": {
            "x": {"field": "t", "type": "temporal",
              "axis": {"orient": "bottom", "ticks": false, "tickSize": 0, "labelPadding": 44, "labelFontSize": 26,
                "labelExpr": "utcFormat(datum.value, '%Y')",
                "values": [{"year":2018,"month":11,"date":30,"utc":true},{"year":2019,"month":3,"date":2,"utc":true}]}},
            "y": {"field": "mm", "type": "quantitative", "axis": null}
          }
        },
        {
          "data": {"values": [{"label":"Irako precip. [mm]","mm":65.3}]},
          "mark": {"type": "text", "align": "right", "baseline": "alphabetic", "dx": -12, "font": "Liberation Sans", "fontSize": 23, "color": "#f4823f"},
          "encoding": {
            "x": {"datum": {"year":2019,"month":5,"date":1,"utc":true}, "type": "temporal", "axis": null},
            "y": {"field": "mm", "type": "quantitative", "axis": null},
            "text": {"field": "label"}
          }
        }
      ],
      "resolve": {"axis": {"x": "independent", "y": "independent"}}
    }
  ]
}
